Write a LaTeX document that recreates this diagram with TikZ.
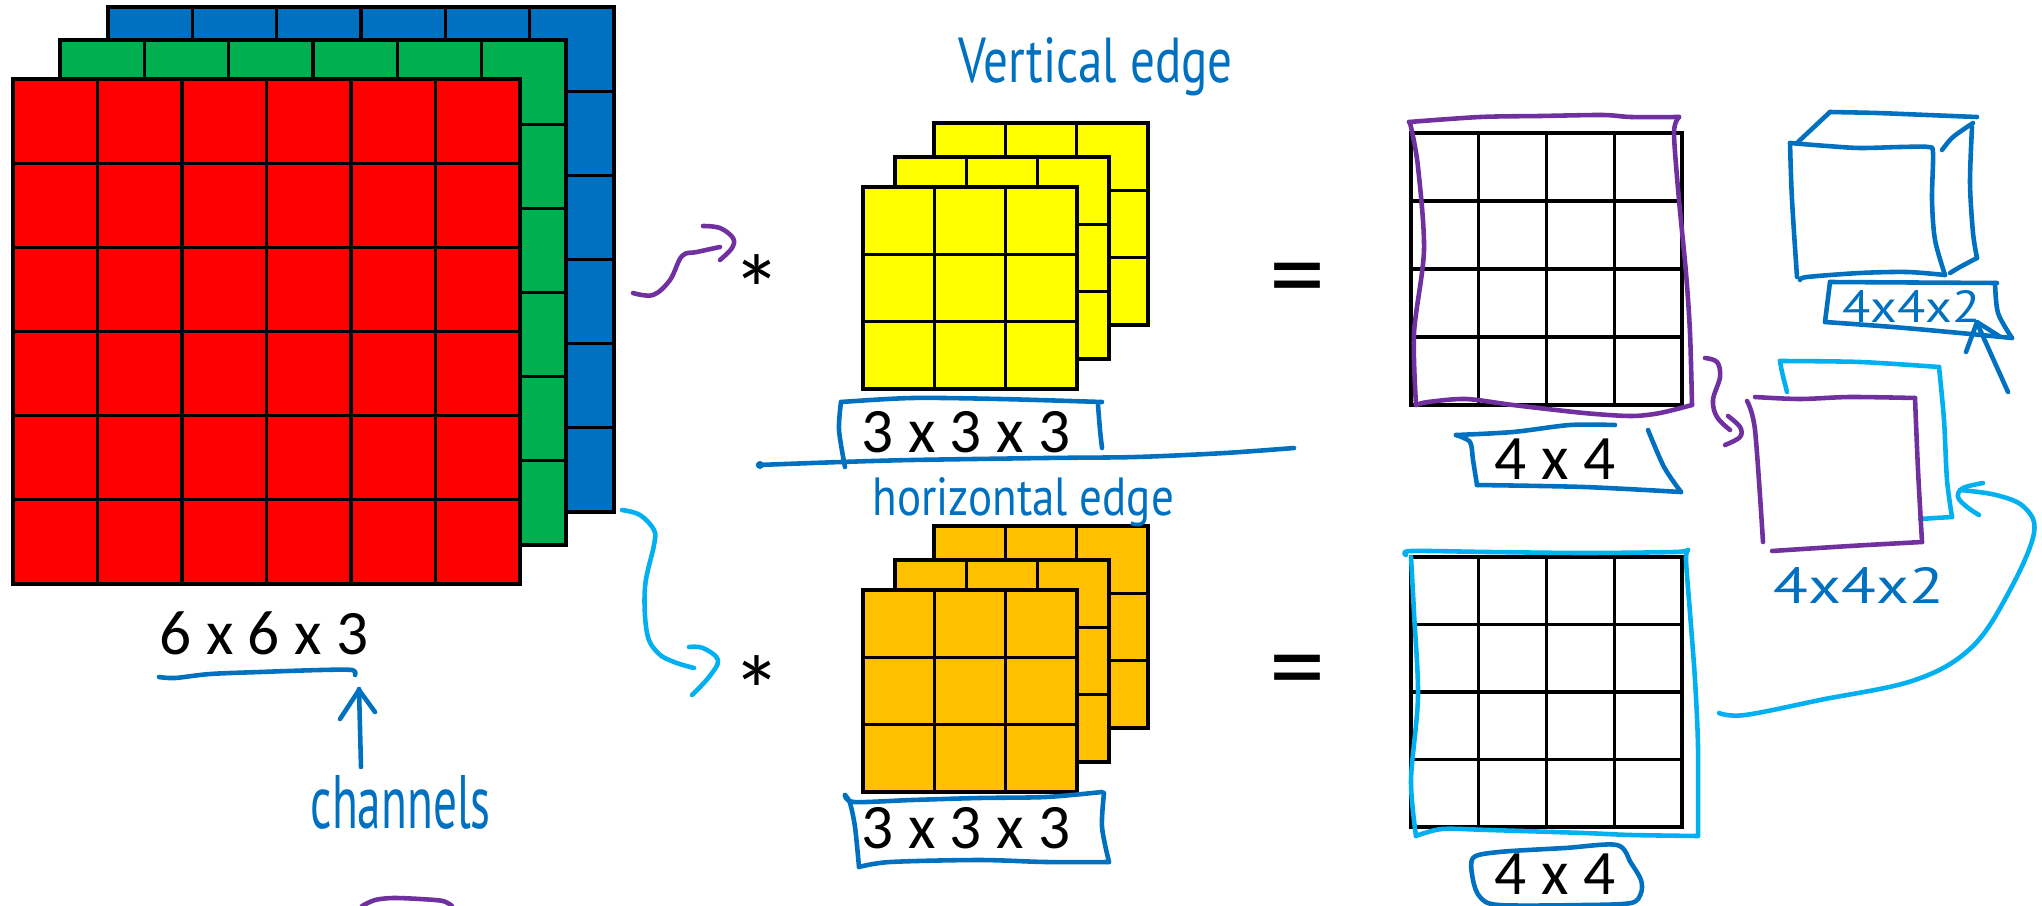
\documentclass[tikz,border=0pt]{standalone}
\usepackage{fontspec}
\setmainfont{Carlito}
\newfontfamily\handfont{PT Sans}
\usepackage{graphicx}
\definecolor{xred}{HTML}{FF0000}
\definecolor{xgreen}{HTML}{00B050}
\definecolor{xblue}{HTML}{0070C0}
\definecolor{xyellow}{HTML}{FFFF00}
\definecolor{xorange}{HTML}{FFC000}
\definecolor{hblue}{HTML}{0070C0}
\definecolor{hpurple}{HTML}{7030A0}
\definecolor{hcyan}{HTML}{00B0F0}
\tikzset{
  gridline/.style={draw=black, line width=0.9pt},
  pen/.style={line width=1.3pt, line cap=round, line join=round},
  bluepen/.style={pen, draw=hblue},
  purplepen/.style={pen, draw=hpurple},
  cyanpen/.style={pen, draw=hcyan},
  dimtext/.style={font=\fontsize{18}{20}\selectfont, inner sep=0pt, text=black},
  optext/.style={inner sep=0pt, text=black, anchor=north},
  handtext/.style={inner sep=0pt, text=hblue, anchor=base west},
}
\newcommand{\mygrid}[6]{%
  \fill[#6] (#1,#2) rectangle (#3,#4);
  \pgfmathtruncatemacro{\gm}{#5-1}%
  \foreach \k in {1,...,\gm}{%
    \draw[gridline] ({#1+(#3-#1)*\k/#5},#2) -- ({#1+(#3-#1)*\k/#5},#4);
    \draw[gridline] (#1,{#2+(#4-#2)*\k/#5}) -- (#3,{#2+(#4-#2)*\k/#5});
  }%
  \draw[gridline] (#1,#2) rectangle (#3,#4);
}
\begin{document}
\begin{tikzpicture}[x=0.01cm, y=-0.01cm]
\fill[white] (0,0) rectangle (2042,906);
\useasboundingbox (0,0) rectangle (2042,906);

% input volume 6x6x3
\mygrid{108}{7}{614}{512}{6}{xblue}
\mygrid{60}{40}{566}{545}{6}{xgreen}
\mygrid{13}{79}{520}{584}{6}{xred}
\node[dimtext] (inlab) at (264,633) {6 x 6 x 3};
\draw[bluepen] plot[smooth, tension=0.5] coordinates {(159,677) (175,678) (210,674) (260,672) (320,670) (352,670) (355,675)};
\coordinate (chtail) at (361,767);
\coordinate (chtip) at (359,689);
\draw[bluepen] (chtail) -- (chtip);
\draw[bluepen] (340,719) -- (359,690) -- (375,712);
\node[handtext] (chlab) at (310,828) {\resizebox{1.80cm}{0.53cm}{\handfont channels}};

% filter 1 (yellow)
\mygrid{934}{123}{1148}{325}{3}{xyellow}
\mygrid{895}{157}{1109}{359}{3}{xyellow}
\mygrid{863}{187}{1077}{389}{3}{xyellow}
\node[dimtext] (f1lab) at (966,432) {3 x 3 x 3};
\node[handtext] (vlab) at (958,82) {\resizebox{2.74cm}{0.45cm}{\handfont Vertical edge}};
\draw[bluepen] plot[smooth, tension=0.5] coordinates {(841,402) (839,430) (845,467)};
\draw[bluepen] plot[smooth, tension=0.5] coordinates {(841,402) (912,398) (1000,399) (1102,402)};
\draw[bluepen] plot[smooth, tension=0.5] coordinates {(1098,405) (1100,430) (1102,448)};
\draw[bluepen] plot[smooth, tension=0.5] coordinates {(758,465) (841,462) (912,460) (1046,458) (1136,457) (1225,453) (1294,448)};
\fill[hblue] (760,465) circle (4);

% filter 2 (orange)
\mygrid{934}{526}{1148}{728}{3}{xorange}
\mygrid{895}{560}{1109}{762}{3}{xorange}
\mygrid{863}{590}{1077}{792}{3}{xorange}
\node[dimtext] (f2lab) at (966,828) {3 x 3 x 3};
\node[handtext] (hlab) at (872,515) {\resizebox{3.01cm}{0.38cm}{\handfont horizontal edge}};
\draw[bluepen] plot[smooth, tension=0.5] coordinates {(845,795) (854,802) (912,800) (979,798) (1046,797) (1102,792)};
\draw[bluepen] plot[smooth, tension=0.5] coordinates {(1104,793) (1102,827) (1109,862)};
\draw[bluepen] plot[smooth, tension=0.5] coordinates {(1109,862) (1046,862) (979,860) (890,862) (859,867)};
\draw[bluepen] plot[smooth, tension=0.5] coordinates {(859,867) (855,827) (850,803) (845,795)};

% operators
\node[optext, font=\fontsize{28}{30}\selectfont] (star1) at (757,254) {*};
\node[optext, font=\fontsize{28}{30}\selectfont] (star2) at (757,655) {*};
\node[optext, font=\fontsize{32}{34}\selectfont] (eq1) at (1298,262) {=};
\node[optext, font=\fontsize{32}{34}\selectfont] (eq2) at (1298,654) {=};

% purple arrow to first *
\draw[purplepen] plot[smooth, tension=0.6] coordinates {(633,293) (653,295) (670,280) (682,256) (697,252) (720,247)};
\draw[purplepen] plot[smooth, tension=0.6] coordinates {(703,226) (720,228) (733,238) (732,248) (720,260)};
% cyan arrow to second *
\draw[cyanpen] plot[smooth, tension=0.6] coordinates {(622,510) (640,515) (654,530) (654,545) (645,587) (647,633) (658,653) (674,662) (694,668)};
\draw[cyanpen] plot[smooth, tension=0.6] coordinates {(689,647) (703,648) (718,660) (709,677) (692,695)};

% outputs 4x4
\mygrid{1411}{133}{1682}{405}{4}{white}
\mygrid{1411}{557}{1682}{827}{4}{white}
\node[dimtext] (o1lab) at (1555,459) {4 x 4};
\node[dimtext] (o2lab) at (1555,874) {4 x 4};
% purple outline
\draw[purplepen] plot[smooth, tension=0.5] coordinates {(1409,122) (1480,117) (1540,116) (1603,115) (1631,117) (1679,117)};
\draw[purplepen] plot[smooth, tension=0.5] coordinates {(1679,117) (1674,133) (1679,200) (1686,273) (1690,333) (1692,405)};
\draw[purplepen] plot[smooth, tension=0.5] coordinates {(1692,405) (1660,413) (1631,416) (1584,413) (1513,405) (1466,399) (1428,402) (1416,405)};
\draw[purplepen] plot[smooth, tension=0.5] coordinates {(1416,405) (1414,333) (1424,250) (1418,167) (1411,127) (1409,122)};
% box round top 4 x 4
\draw[bluepen] plot[smooth, tension=0.5] coordinates {(1456,435) (1513,432) (1570,425) (1615,425)};
\draw[bluepen] plot[smooth, tension=0.5] coordinates {(1456,435) (1470,442) (1473,460) (1477,485)};
\draw[bluepen] plot[smooth, tension=0.5] coordinates {(1477,485) (1584,487) (1681,492)};
\draw[bluepen] plot[smooth, tension=0.5] coordinates {(1681,492) (1664,467) (1648,430)};
% cyan outline
\draw[cyanpen] plot[smooth, tension=0.5] coordinates {(1406,555) (1411,551) (1489,552) (1584,553) (1674,552) (1688,550)};
\draw[cyanpen] plot[smooth, tension=0.5] coordinates {(1688,550) (1686,560) (1690,613) (1695,680) (1698,747) (1698,836)};
\draw[cyanpen] plot[smooth, tension=0.5] coordinates {(1698,836) (1631,835) (1584,833) (1489,830) (1442,829) (1416,836)};
\draw[cyanpen] plot[smooth, tension=0.5] coordinates {(1416,836) (1411,780) (1418,697) (1414,613) (1411,557)};
% oval round lower 4 x 4
\draw[bluepen] plot[smooth cycle, tension=0.5] coordinates {(1473,858) (1499,852) (1565,848) (1617,845) (1631,863) (1641,880) (1641,893) (1631,903) (1584,905) (1499,905) (1480,897) (1473,880)};

% cube
\draw[bluepen] plot[smooth, tension=0.5] coordinates {(1790,143) (1827,146) (1860,148) (1900,147) (1928,147) (1933,153) (1932,200) (1935,240) (1945,275)};
\draw[bluepen] plot[smooth, tension=0.5] coordinates {(1790,143) (1792,200) (1797,277)};
\draw[bluepen] plot[smooth, tension=0.5] coordinates {(1800,280) (1807,277) (1860,273) (1907,272) (1945,275)};
\draw[bluepen] plot[smooth, tension=0.5] coordinates {(1830,112) (1877,113) (1927,115) (1977,117)};
\draw[bluepen] (1798,142) -- (1830,112);
\draw[bluepen] plot[smooth, tension=0.5] coordinates {(1942,150) (1953,137) (1973,123)};
\draw[bluepen] plot[smooth, tension=0.5] coordinates {(1972,127) (1970,183) (1973,233) (1977,258)};
\draw[bluepen] plot[smooth, tension=0.5] coordinates {(1977,258) (1960,267) (1950,273)};
% label box under cube
\draw[bluepen] (1830,282) -- (1997,283);
\draw[bluepen] (1830,282) -- (1825,322);
\draw[bluepen] plot[smooth, tension=0.5] coordinates {(1825,322) (1893,327) (1960,333) (2012,338)};
\draw[bluepen] plot[smooth, tension=0.5] coordinates {(1995,283) (1998,313) (2012,338)};
\node[handtext] (c1lab) at (1842,322) {\resizebox{1.38cm}{0.32cm}{\handfont 4x4x2}};
\coordinate (ctail) at (2008,392);
\coordinate (ctip) at (1977,323);
\draw[bluepen] (ctail) -- (ctip);
\draw[bluepen] (1966,352) -- (1977,322) -- (1999,336);

% stacked output squares
\draw[cyanpen] plot[smooth, tension=0.5] coordinates {(1787,392) (1782,372) (1780,361)};
\draw[cyanpen] plot[smooth, tension=0.5] coordinates {(1780,361) (1860,362) (1939,367)};
\draw[cyanpen] plot[smooth, tension=0.5] coordinates {(1939,367) (1944,420) (1947,480) (1952,517)};
\draw[cyanpen] plot[smooth, tension=0.5] coordinates {(1952,517) (1935,518) (1920,519)};
\draw[purplepen] plot[smooth, tension=0.5] coordinates {(1755,397) (1800,399) (1850,397) (1915,398)};
\draw[purplepen] plot[smooth, tension=0.5] coordinates {(1915,398) (1918,470) (1922,542)};
\draw[purplepen] plot[smooth, tension=0.5] coordinates {(1922,542) (1850,546) (1772,551)};
\draw[purplepen] plot[smooth, tension=0.5] coordinates {(1747,401) (1755,430) (1763,542)};
\node[handtext] (c2lab) at (1773,603) {\resizebox{1.70cm}{0.36cm}{\handfont 4x4x2}};
% purple bracket arrow
\draw[purplepen] plot[smooth, tension=0.6] coordinates {(1705,358) (1717,362) (1720,377) (1713,400) (1717,417) (1730,430)};
\draw[purplepen] plot[smooth, tension=0.6] coordinates {(1728,416) (1740,427) (1740,437) (1725,445)};
% cyan curve from lower output
\draw[cyanpen] plot[smooth, tension=0.6] coordinates {(1719,713) (1745,715) (1820,700) (1915,680) (1972,647) (2010,590) (2034,533) (2024,507) (1996,495) (1960,490)};
\draw[cyanpen] plot[smooth, tension=0.6] coordinates {(1983,483) (1963,488) (1958,497) (1967,507) (1979,515)};

% purple scribble at bottom edge
\draw[purplepen] plot[smooth, tension=0.5] coordinates {(362,906) (375,900) (393,898) (420,899) (443,901) (452,906)};
\end{tikzpicture}
\end{document}
